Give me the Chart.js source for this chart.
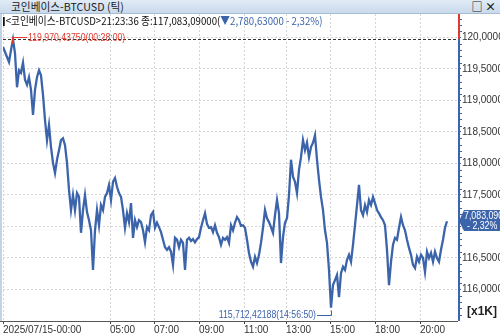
<!DOCTYPE html>
<html>
<head>
<meta charset="utf-8">
<script src="https://cdn.jsdelivr.net/npm/chart.js@4.4.1/dist/chart.umd.min.js"></script>
<style>
  html, body { margin: 0; padding: 0; background: #fff; width: 500px; height: 335px; overflow: hidden;
    font-family: "Noto Sans CJK KR", "Liberation Sans", sans-serif; }
  #bar { position: absolute; left: 0; top: 0; width: 500px; height: 13px;
    background: linear-gradient(#e0ebf6, #c9daec); border-bottom: 1px solid #a8bed6; }
  #ttl { position: absolute; left: 11px; top: 0; font-size: 11px; line-height: 13px; color: #1b1b1b;
    white-space: nowrap; transform: scaleX(0.97); transform-origin: left; }
  #btns { position: absolute; right: 4px; top: 0; font-size: 11px; line-height: 13px; color: #222; font-weight: bold; }
  #info { position: absolute; left: 3px; top: 14px; font-size: 11px; line-height: 13px; white-space: nowrap;
    color: #111; z-index: 2; transform: scaleX(0.88); transform-origin: left; }
  #info .mk { display: inline-block; width: 2px; height: 9px; background: #111; margin-right: 1px; vertical-align: -1px; }
  #info .dn { color: #3b64ab; }
  #strip { position: absolute; left: 0; top: 14px; width: 2px; height: 307px; background: #c3d2e5; z-index: 2; }
  #wrap { position: absolute; left: 0; top: 14px; width: 500px; height: 321px; }
</style>
</head>
<body>
<div id="bar"><span id="ttl">코인베이스-BTCUSD (틱)</span><span id="btns">□ ×</span></div>
<div id="info"><span class="mk"></span>&lt;코인베이스-BTCUSD&gt;21:23:36 종:117,083,09000(<span class="dn">▼2,780,63000  - 2,32%)</span></div>
<div id="strip"></div>
<div id="wrap"><canvas id="c" width="500" height="321"></canvas></div>
<script>
// x축 시간 라벨 (틱 차트라 인덱스 기준)
const times = ["2025/07/15-00:00", "05:00", "07:00", "09:00", "11:00", "13:00", "15:00", "18:00", "20:00"];
const timeIdx = [0, 53.5, 75.5, 98, 120.5, 141.5, 163.5, 186, 208.5];
const priceTicks = [116000, 116500, 117000, 117500, 118000, 118500, 119000, 119500, 120000];

const peakTime = "00:28:00";
const lowTime = "14:56:50";
const lastBox = ["7,083,090", "- 2,32%"];

const prices = [
  119850, 119770, 119690, 119610, 119800, 119970.4375, 119750, 119210, 119480, 119440,
  119600, 119330, 119250, 119370, 119170, 118770, 119170, 119370, 119480, 119400,
  119090, 118690, 118370, 118610, 118260, 118010, 117850, 118060, 118210, 118370,
  118400, 118290, 118010, 117580, 117260, 117500, 117260, 117530, 117470, 116900,
  117260, 117500, 117230, 117100, 116940, 116310, 116940, 117260, 117020, 117340,
  117260, 117470, 117530, 117660, 117420, 117710, 117770, 117630, 117530, 117470,
  117260, 116980, 117210, 117070, 117370, 116820, 117100, 116990, 117100, 117070,
  116940, 116750, 116990, 116940, 117180, 117230, 116980, 117060, 116990, 116910,
  116790, 116670, 116630, 116670, 116600, 116390, 116820, 116790, 116670, 116790,
  116740, 116310, 116790, 116820, 116770, 116800, 116750, 116800, 116830, 116980,
  117100, 117210, 117040, 116980, 116990, 116910, 117020, 116900, 116830, 116710,
  116820, 116790, 116830, 116740, 117020, 116940, 117060, 117150, 117100, 117010,
  117020, 116980, 116790, 116580, 116440, 116360, 116520, 116420, 116550, 116740,
  116980, 117260, 117130, 117070, 116990, 116900, 117180, 117420, 117210, 116420,
  116830, 117060, 117130, 117500, 118060, 117790, 117710, 117530, 117900, 118100,
  118370, 118210, 118330, 118100, 118260, 118330, 118450, 118060, 117740, 117470,
  117260, 116940, 116740, 116310, 115712.42188, 116070, 116150, 116230, 115880, 116260,
  116360, 116310, 116470, 116550, 116440, 116710, 117020, 117340, 117660, 117260,
  117180, 117340, 117230, 117420, 117340, 117470, 117370, 117260, 117210, 117150,
  117100, 117020, 116630, 116070, 116440, 116710, 116820, 116790, 116980, 117150,
  117020, 116940, 116790, 116660, 116550, 116390, 116340, 116520, 116440, 116550,
  116500, 116280, 116600, 116500, 116580, 116440, 116600, 116500, 116440, 116630,
  116790, 116980, 117083.09
];

const BLUE = "#3b64ab";
const RED = "#e0392e";
const FONT = '"Liberation Sans", Arial, sans-serif';

function fmtPrice(v) {
  const ip = Math.floor(v);
  return ip.toLocaleString("en-US") + "," + (v - ip).toFixed(5).slice(2);
}

// 가로로 좁힌 글자 (원본 HTS 폰트 흉내)
function txt(ctx, s, x, y, align, color, size, sx) {
  ctx.save();
  ctx.font = size + "px " + FONT;
  ctx.fillStyle = color;
  ctx.textBaseline = "middle";
  const w = ctx.measureText(s).width * sx;
  let x0 = x;
  if (align === "right") x0 = x - w;
  ctx.translate(x0, y);
  ctx.scale(sx, 1);
  ctx.textAlign = "left";
  ctx.fillText(s, 0, 0);
  ctx.restore();
}

const overlay = {
  id: "overlay",
  afterDatasetsDraw(chart) {
    const { ctx, chartArea: a, scales: { x, y } } = chart;
    const hi = Math.max(...prices), lo = Math.min(...prices);
    const iHi = prices.indexOf(hi), iLo = prices.indexOf(lo);
    const px = x.getPixelForValue(iHi), py = Math.round(y.getPixelForValue(hi));
    const mx = Math.round(x.getPixelForValue(iLo)), my = y.getPixelForValue(lo);

    ctx.save();
    // 바닥 축
    ctx.strokeStyle = "#555"; ctx.lineWidth = 1;
    ctx.beginPath(); ctx.moveTo(0, a.bottom + 0.5); ctx.lineTo(a.right, a.bottom + 0.5); ctx.stroke();

    // 최고가 점선
    ctx.setLineDash([3, 2]); ctx.strokeStyle = "#333";
    ctx.beginPath(); ctx.moveTo(a.left, py + 0.5); ctx.lineTo(a.right, py + 0.5); ctx.stroke();
    ctx.setLineDash([]);

    // 오른쪽 축선: 위는 빨강, 아래는 파랑
    ctx.lineWidth = 2;
    ctx.strokeStyle = RED;
    ctx.beginPath(); ctx.moveTo(a.right + 1, a.top); ctx.lineTo(a.right + 1, py); ctx.stroke();
    ctx.strokeStyle = BLUE;
    ctx.beginPath(); ctx.moveTo(a.right + 1, py); ctx.lineTo(a.right + 1, a.bottom); ctx.stroke();
    ctx.lineWidth = 1;
    for (let v = 115600; v <= 120300; v += 100) {
      if (v % 500 === 0) continue;
      const yy = Math.round(y.getPixelForValue(v)) + 0.5;
      ctx.beginPath(); ctx.moveTo(a.right + 2, yy); ctx.lineTo(a.right + 4, yy); ctx.stroke();
    }

    // 최고가 표시
    ctx.strokeStyle = RED; ctx.lineWidth = 2;
    ctx.beginPath(); ctx.moveTo(px, py + 5); ctx.lineTo(px, py - 2); ctx.stroke();
    ctx.lineWidth = 1;
    ctx.beginPath(); ctx.moveTo(px, py - 1.5); ctx.lineTo(px + 14, py - 1.5); ctx.stroke();
    txt(ctx, fmtPrice(hi) + "(" + peakTime + ")", px + 15, py - 1, "left", RED, 10.5, 0.83);

    // 최저가 표시
    const ly = a.bottom - 5.5;
    ctx.strokeStyle = BLUE; ctx.lineWidth = 1;
    ctx.beginPath(); ctx.moveTo(mx - 14, ly); ctx.lineTo(mx + 0.5, ly); ctx.lineTo(mx + 0.5, my + 3); ctx.stroke();
    txt(ctx, fmtPrice(lo) + "(" + lowTime + ")", mx - 15, ly, "right", BLUE, 10.5, 0.83);

    // 현재가 박스
    const cy = Math.round(y.getPixelForValue(prices[prices.length - 1]));
    ctx.fillStyle = BLUE;
    ctx.beginPath();
    ctx.moveTo(a.right + 1, cy);
    ctx.lineTo(a.right + 6, cy - 11);
    ctx.lineTo(500, cy - 11);
    ctx.lineTo(500, cy + 10);
    ctx.lineTo(a.right + 6, cy + 10);
    ctx.closePath(); ctx.fill();
    txt(ctx, lastBox[0], a.right + 6, cy - 5, "left", "#fff", 10, 0.88);
    txt(ctx, lastBox[1], a.right + 9, cy + 5, "left", "#fff", 10, 0.88);

    // 단위
    ctx.font = "bold 12px " + FONT;
    ctx.fillStyle = "#222"; ctx.textBaseline = "middle"; ctx.textAlign = "left";
    ctx.fillText("[x1K]", a.right + 9, a.bottom - 9);
    ctx.restore();
  }
};

new Chart(document.getElementById("c"), {
  type: "line",
  data: {
    datasets: [{
      data: prices.map((p, i) => ({ x: i, y: p })),
      borderColor: BLUE,
      borderWidth: 2.3,
      pointRadius: 0,
      tension: 0,
      fill: false
    }]
  },
  options: {
    responsive: false,
    animation: false,
    devicePixelRatio: 1,
    layout: { padding: { left: 3, right: 0, top: 0, bottom: 0 } },
    plugins: { legend: { display: false }, tooltip: { enabled: false } },
    scales: {
      x: {
        type: "linear", min: 0, max: 227.5,
        afterBuildTicks: s => { s.ticks = timeIdx.map(v => ({ value: v })); },
        afterFit: s => { s.height = 14; s.paddingLeft = 0; s.paddingRight = 0; },
        grid: { color: "#d6d6d6", tickColor: "#444", tickLength: 3 },
        border: { display: false, dash: [2, 2] },
        ticks: {
          autoSkip: false, maxRotation: 0, align: "start", padding: 0, color: "#333",
          font: { family: FONT, size: 10 },
          callback: (v, i) => times[i]
        }
      },
      y: {
        position: "right", min: 115500, max: 120373,
        afterBuildTicks: s => { s.ticks = priceTicks.map(v => ({ value: v })); },
        afterFit: s => { s.width = 42; s.paddingTop = 0; s.paddingBottom = 0; },
        grid: { color: "#d6d6d6", tickColor: BLUE, tickLength: 3 },
        border: { display: false, dash: [2, 2] },
        ticks: {
          padding: 1, color: "#333",
          font: { family: FONT, size: 10 },
          callback: v => (v / 1000).toFixed(5).replace(".", ",")
        }
      }
    }
  },
  plugins: [overlay]
});
</script>
</body>
</html>
